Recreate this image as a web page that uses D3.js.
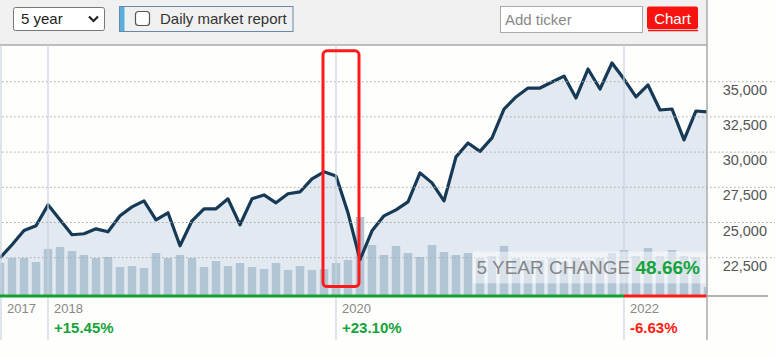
<!DOCTYPE html>
<html>
<head>
<meta charset="utf-8">
<script src="https://cdn.jsdelivr.net/npm/d3@7"></script>
<style>
  html, body { margin: 0; padding: 0; background: #fefefc; }
  svg { display: block; font-family: "Liberation Sans", Arial, sans-serif; }
</style>
</head>
<body>
<svg id="chart" width="775" height="357"></svg>
<script>
// ---------- DATA ----------
const months = d3.timeMonth.range(new Date(2017, 8, 1), new Date(2022, 8, 1)).map(d3.timeFormat("%Y-%m"));
const closeValues = [
  22480, 23420, 24430, 24770, 26255, 25190, 24130, 24200, 24550, 24340,
  25475, 26110, 26540, 25190, 25690, 23350, 25120, 25970, 25970, 26680,
  24840, 26680, 26960, 26400, 27040, 27180, 28100, 28600, 28310, 25690,
  22355, 24410, 25475, 25900, 26470, 28525, 27815, 26540, 29660, 30650,
  30050, 31010, 33060, 33915, 34550, 34550, 34980, 35400, 33845, 35900,
  34480, 36330, 35190, 33915, 34770, 32990, 33060, 30865, 32920, 32850
];
const volumeValues = [
  320, 370, 370, 330, 460, 480, 440, 400, 370, 380,
  280, 290, 270, 420, 370, 400, 370, 280, 340, 290,
  320, 280, 260, 320, 250, 290, 250, 260, 320, 350,
  780, 500, 400, 490, 420, 380, 500, 430, 400, 420,
  370, 390, 490, 370, 350, 350, 370, 330, 370, 350,
  370, 420, 450, 390, 470, 390, 450, 390, 380, 80
];
const yTicks = [22500, 25000, 27500, 30000, 32500, 35000];
const yearLabels = ["2017", "2018", "2020", "2022"];
const yearStarts = ["2017-09", "2018-01", "2020-01", "2022-01"];
const yearChanges = ["", "+15.45%", "+23.10%", "-6.63%"];
const highlightMonths = ["2019-12", "2020-03"];
const changeLabel = "5 YEAR CHANGE";
const changeValue = "48.66%";

// ---------- LAYOUT ----------
const W = 775, H = 357;
const plotL = 0, plotR = 707, plotT = 45, plotB = 295;
const green = "#14a33a", red = "#ff1a12";

const svg = d3.select("#chart");

const x = d3.scalePoint().domain(months).range([0, 708]);
const y = d3.scaleLinear().domain([22500, 35000]).range([257.7, 81.7]);
const yVol = d3.scaleLinear().domain([0, 1000]).range([plotB, plotB - 100]);

// header
svg.append("rect").attr("x", 0).attr("y", 0).attr("width", plotR).attr("height", plotT).attr("fill", "#f0f0f0");
svg.append("line").attr("x1", 0).attr("x2", plotR).attr("y1", plotT).attr("y2", plotT)
  .attr("stroke", "#aaa").attr("stroke-width", 1.5);

// select
svg.append("rect").attr("x", 13.5).attr("y", 7.5).attr("width", 91).attr("height", 23).attr("rx", 2)
  .attr("fill", "#fff").attr("stroke", "#777");
svg.append("text").attr("x", 21).attr("y", 23.5).attr("font-size", 15).attr("fill", "#222").text("5 year");
svg.append("path").attr("d", "M89,16.5 L93.5,21 L98,16.5").attr("fill", "none").attr("stroke", "#222").attr("stroke-width", 2.2);

// daily market report
svg.append("rect").attr("x", 119.5).attr("y", 6.5).attr("width", 173.5).attr("height", 25).attr("fill", "#f0f0f0").attr("stroke", "#6a88aa");
svg.append("rect").attr("x", 120).attr("y", 7).attr("width", 4.5).attr("height", 24).attr("fill", "#5aaedb");
svg.append("rect").attr("x", 135.5).attr("y", 11.5).attr("width", 14).attr("height", 14).attr("rx", 3)
  .attr("fill", "#fff").attr("stroke", "#555").attr("stroke-width", 1.2);
svg.append("text").attr("x", 160).attr("y", 23.5).attr("font-size", 15).attr("fill", "#333").text("Daily market report");

// add ticker
svg.append("rect").attr("x", 500.5).attr("y", 6.5).attr("width", 142).attr("height", 26).attr("fill", "#fff").attr("stroke", "#aaa");
svg.append("text").attr("x", 505).attr("y", 25).attr("font-size", 15).attr("fill", "#888").text("Add ticker");

// chart button
svg.append("rect").attr("x", 647).attr("y", 6.5).attr("width", 51).attr("height", 22.5).attr("rx", 2).attr("fill", "#f71410");
svg.append("line").attr("x1", 648).attr("x2", 698).attr("y1", 30.5).attr("y2", 30.5).attr("stroke", "#f71410").attr("stroke-width", 1.5);
svg.append("text").attr("x", 672.5).attr("y", 24).attr("text-anchor", "middle").attr("font-size", 15).attr("fill", "#fff").text("Chart");

// plot clip
svg.append("defs").append("clipPath").attr("id", "plotclip")
  .append("rect").attr("x", plotL).attr("y", plotT).attr("width", plotR - plotL).attr("height", plotB - plotT);
const plot = svg.append("g").attr("clip-path", "url(#plotclip)");

// area
const area = d3.area().x((d, i) => x(months[i])).y0(plotB).y1(d => y(d));
plot.append("path").datum(closeValues).attr("d", area).attr("fill", "#e2e9f1");

// grid lines (extend into label area)
svg.append("g").selectAll("line").data(yTicks).join("line")
  .attr("x1", 2).attr("x2", W).attr("y1", d => y(d)).attr("y2", d => y(d))
  .attr("stroke", "#a8a8a8").attr("stroke-width", 1).attr("stroke-dasharray", "1.5 2.5");

// year separators
svg.append("g").selectAll("line").data(yearStarts).join("line")
  .attr("x1", d => Math.max(1, x(d))).attr("x2", d => Math.max(1, x(d)))
  .attr("y1", plotT).attr("y2", 340)
  .attr("stroke", "#c9d3de").attr("stroke-width", 1.2);

// volume bars
plot.append("g").selectAll("rect").data(volumeValues).join("rect")
  .attr("x", (d, i) => x(months[i]) - 4.25).attr("width", 8.5)
  .attr("y", d => yVol(d)).attr("height", d => plotB - yVol(d))
  .attr("fill", "#b2c5d5");

// price line
const line = d3.line().x((d, i) => x(months[i])).y(d => y(d));
plot.append("path").datum(closeValues).attr("d", line).attr("fill", "none")
  .attr("stroke", "#163a56").attr("stroke-width", 3.2).attr("stroke-linejoin", "round");

// change overlay box
svg.append("rect").attr("x", 472.7).attr("y", 251.7).attr("width", plotR - 472.7).attr("height", 31.6)
  .attr("fill", "#fff").attr("opacity", 0.5);
const ct = svg.append("text").attr("x", 700).attr("y", 273.5).attr("text-anchor", "end").attr("font-size", 19);
ct.append("tspan").attr("fill", "#858585").text(changeLabel + "  ");
ct.append("tspan").attr("fill", green).attr("font-weight", "bold").text(changeValue);

// highlight rectangle
const hx0 = x(highlightMonths[0]) - 1, hx1 = x(highlightMonths[1]) - 1;
svg.append("rect").attr("x", hx0).attr("y", 50.8).attr("width", hx1 - hx0).attr("height", 235.7)
  .attr("rx", 4).attr("fill", "none").attr("stroke", "#ff1a1a").attr("stroke-width", 3);

// bottom axis lines
svg.append("line").attr("x1", plotR).attr("x2", 768).attr("y1", 296).attr("y2", 296).attr("stroke", "#999").attr("stroke-width", 1.5);
svg.append("line").attr("x1", 0).attr("x2", x("2022-01")).attr("y1", 296).attr("y2", 296).attr("stroke", "#14a02e").attr("stroke-width", 3);
svg.append("line").attr("x1", x("2022-01")).attr("x2", plotR).attr("y1", 296).attr("y2", 296).attr("stroke", red).attr("stroke-width", 3);

// right border
svg.append("line").attr("x1", plotR).attr("x2", plotR).attr("y1", 0).attr("y2", 340).attr("stroke", "#aaa").attr("stroke-width", 1.5);

// y labels
svg.append("g").selectAll("text").data(yTicks).join("text")
  .attr("x", 767).attr("y", d => y(d) + 13).attr("text-anchor", "end")
  .attr("font-size", 14.5).attr("fill", "#555").text(d3.format(","));

// year labels
const yl = svg.append("g").selectAll("g").data(yearLabels).join("g")
  .attr("transform", (d, i) => `translate(${Math.max(1, x(yearStarts[i])) + 6},0)`);
yl.append("text").attr("y", 312.5).attr("font-size", 13).attr("fill", "#888").text(d => d);
yl.append("text").attr("y", 333).attr("font-size", 15).attr("font-weight", "bold")
  .attr("fill", (d, i) => yearChanges[i].startsWith("-") ? red : green)
  .text((d, i) => yearChanges[i]);
</script>
</body>
</html>
